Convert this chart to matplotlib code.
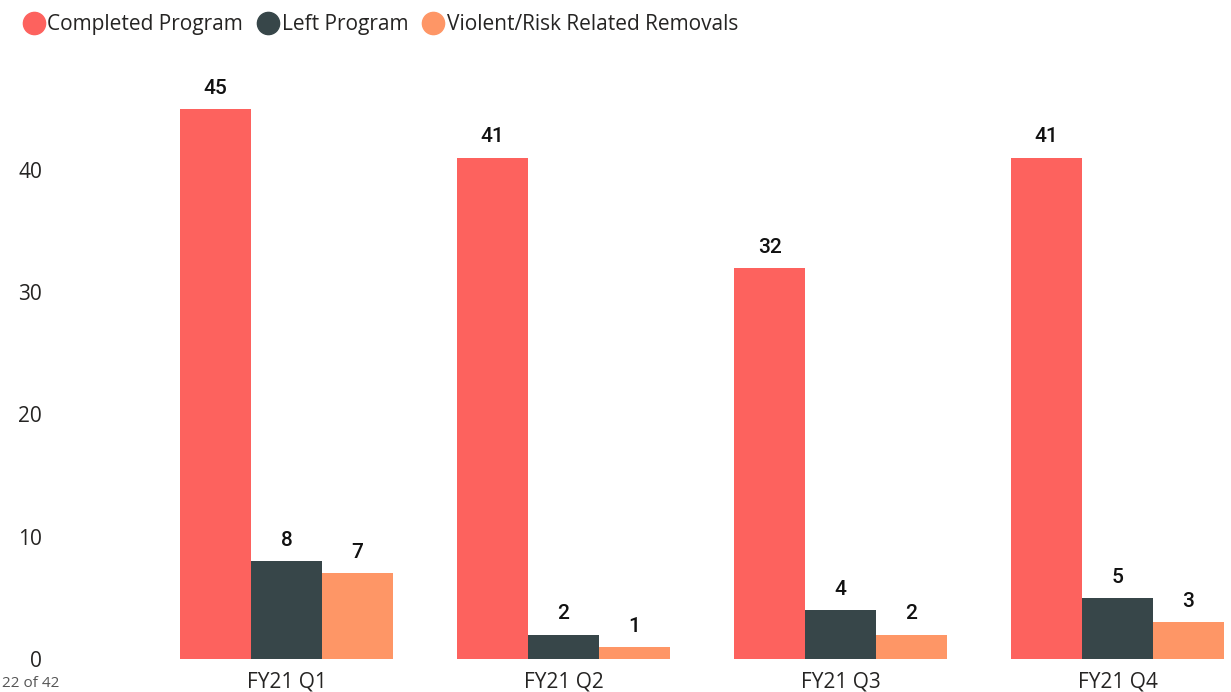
import numpy as np
import matplotlib.pyplot as plt
from matplotlib.lines import Line2D

quarters = ["FY21 Q1", "FY21 Q2", "FY21 Q3", "FY21 Q4"]
series = ["Completed Program", "Left Program", "Violent/Risk Related Removals"]
completed = [45, 41, 32, 41]
left = [8, 2, 4, 5]
violent = [7, 1, 2, 3]
colors = ["#FD625E", "#374649", "#FE9666"]

plt.rcParams['font.family'] = ['Open Sans', 'DejaVu Sans']

fig = plt.figure(figsize=(12.31, 6.92), dpi=100)
ax = fig.add_axes([60 / 1231, 33 / 692, 1 - 60 / 1231, (659 - 47.5) / 692])

x = np.arange(len(quarters))
w = 0.256
for i, (vals, c) in enumerate(zip([completed, left, violent], colors)):
    pos = x + (i - 1) * w
    bars = ax.bar(pos, vals, width=w, color=c, label=series[i])
    for p, v in zip(pos, vals):
        ax.annotate(str(v), (p, v), xytext=(0, 8), textcoords="offset points",
                    ha="center", va="bottom", fontsize=15, family=["Roboto", "DejaVu Sans"],
                    fontweight="medium", color="#111111")

ax.set_xlim((60 - 286.5) / 277, (1231 - 286.5) / 277)
ax.set_ylim(0, 50)
ax.set_yticks([0, 10, 20, 30, 40])
ax.set_xticks(x)
ax.set_xticklabels(quarters)
ax.tick_params(axis="both", length=0, labelsize=15, colors="#252423")
ax.tick_params(axis="x", pad=9)
ax.tick_params(axis="y", pad=13)
for s in ax.spines.values():
    s.set_visible(False)

handles = [Line2D([], [], marker="o", linestyle="", markersize=16, color=c) for c in colors]
fig.legend(handles, series, loc="upper left", bbox_to_anchor=(12 / 1231, 1 - 6 / 692),
           ncol=3, frameon=False, fontsize=15, handletextpad=0.0, columnspacing=0.55,
           handlelength=1.3, borderaxespad=0, labelcolor="#252423")

fig.text(2 / 1231, 1 / 692, "22 of 42", fontsize=11, color="#555555", va="bottom")

fig.savefig("out.png", dpi=100)
